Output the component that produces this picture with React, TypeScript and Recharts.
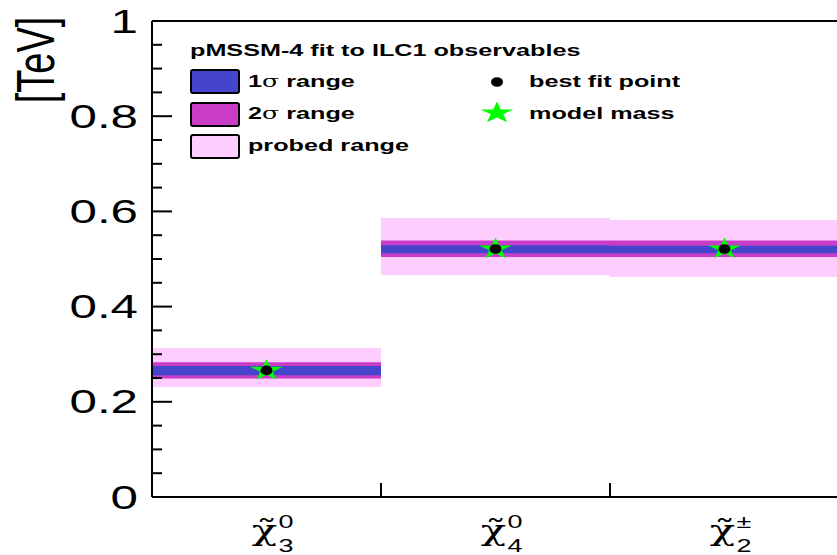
import {
  ComposedChart,
  XAxis,
  YAxis,
  Scatter,
  ReferenceArea,
  ReferenceLine,
} from "recharts"

// particle labels: chi-tilde with sub/superscripts
const labelSub = ["3", "4", "2"]
const labelSup = ["0", "0", "±"]

// masses in TeV
const bestFit = [0.266, 0.521, 0.521]
const modelMass = [0.266, 0.521, 0.521]
const sigma1Low = [0.256, 0.512, 0.512]
const sigma1High = [0.275, 0.529, 0.528]
const sigma2Low = [0.249, 0.504, 0.504]
const sigma2High = [0.283, 0.539, 0.539]
const probedLow = [0.231, 0.466, 0.462]
const probedHigh = [0.313, 0.586, 0.582]

const yTicks = [
  0, 0.05, 0.1, 0.15, 0.2, 0.25, 0.3, 0.35, 0.4, 0.45, 0.5, 0.55, 0.6, 0.65,
  0.7, 0.75, 0.8, 0.85, 0.9, 0.95, 1,
]
const xTicks = [0.5, 1, 1.5, 2, 2.5]

const FONT = "'Liberation Sans', Arial, sans-serif"
const SX = 1.5 // the original is stretched sideways

const PINK = "#ffccff"
const MAGENTA = "#c83cc8"
const BLUE = "#4444cc"

const stretch = (x: number, y: number, s = SX) =>
  `translate(${x} ${y}) scale(${s} 1) translate(${-x} ${-y})`

const isMajor = (v: number) => Math.abs(v * 5 - Math.round(v * 5)) < 1e-6

function LeftTick(props: any) {
  const { x, y, payload } = props
  const v = payload.value as number
  const ax = x + 14
  const major = isMajor(v)
  return (
    <g>
      <line x1={ax} x2={ax + (major ? 20 : 10)} y1={y} y2={y} stroke="#000" strokeWidth={2} />
      {major && (
        <text
          x={x}
          y={y}
          textAnchor="end"
          dominantBaseline="central"
          fontFamily={FONT}
          fontSize={34}
          fill="#000"
          transform={stretch(x, y, 1.45)}
        >
          {String(v)}
        </text>
      )}
    </g>
  )
}

function RightTick(props: any) {
  const { x, y, payload } = props
  const len = isMajor(payload.value) ? 20 : 10
  return <line x1={x} x2={x - len} y1={y} y2={y} stroke="#000" strokeWidth={2} />
}

function BottomTick(props: any) {
  const { x, y, payload } = props
  const v = payload.value as number
  if (Number.isInteger(v)) {
    return <line x1={x} x2={x} y1={y} y2={y - 14} stroke="#000" strokeWidth={2} />
  }
  const i = Math.floor(v)
  return (
    <g fill="#000">
      <text x={x - 2} y={y + 43} textAnchor="middle" fontFamily="'DejaVu Serif', serif" fontSize={28} transform={stretch(x - 2, y + 43)}>
        {"\u03C7\u0303"}
      </text>
      <text x={x + 12} y={y + 31} fontFamily={FONT} fontSize={18} transform={stretch(x + 12, y + 31)}>
        {labelSup[i]}
      </text>
      <text x={x + 12} y={y + 55} fontFamily={FONT} fontSize={18} transform={stretch(x + 12, y + 55)}>
        {labelSub[i]}
      </text>
    </g>
  )
}

function starPoints(cx: number, cy: number, r: number) {
  const pts: string[] = []
  for (let k = 0; k < 10; k++) {
    const a = ((-90 + k * 36) * Math.PI) / 180
    const rr = k % 2 === 0 ? r : r * 0.382
    pts.push(`${cx + SX * rr * Math.cos(a)},${cy + rr * Math.sin(a)}`)
  }
  return pts.join(" ")
}

const StarShape = (p: any) => <polygon points={starPoints(p.cx, p.cy, 11.5)} fill="#00ff00" />
const DotShape = (p: any) => <ellipse cx={p.cx} cy={p.cy} rx={6} ry={4.8} fill="#000" />

function LegendBox() {
  const rows = [
    { fill: BLUE, y: 70, base: 87.5, label: "1", rest: " range", sigma: true },
    { fill: MAGENTA, y: 103, base: 119, label: "2", rest: " range", sigma: true },
    { fill: PINK, y: 135, base: 151, label: "probed range", rest: "", sigma: false },
  ]
  return (
    <svg
      width={837}
      height={555}
      style={{ position: "absolute", left: 0, top: 0, pointerEvents: "none" }}
    >
      <text x={190} y={56.5} fontFamily={FONT} fontWeight="bold" fontSize={16.8} transform={stretch(190, 56.5)}>
        pMSSM-4 fit to ILC1 observables
      </text>
      {rows.map((r) => (
        <g key={r.label + r.y}>
          <rect x={191} y={r.y} width={48} height={23} rx={2} fill={r.fill} stroke="#000" strokeWidth={2} />
          <text x={248} y={r.base} fontFamily={FONT} fontWeight="bold" fontSize={16.8} transform={stretch(248, r.base)}>
            {r.label}
            {r.sigma && (
              <tspan fontFamily="'DejaVu Serif', serif" fontWeight="normal">
                σ
              </tspan>
            )}
            {r.rest}
          </text>
        </g>
      ))}
      <ellipse cx={497} cy={82} rx={6} ry={4.8} fill="#000" />
      <polygon points={starPoints(497, 113, 11.5)} fill="#00ff00" />
      <text x={529} y={87.5} fontFamily={FONT} fontWeight="bold" fontSize={16.8} transform={stretch(529, 87.5)}>
        best fit point
      </text>
      <text x={529} y={119} fontFamily={FONT} fontWeight="bold" fontSize={16.8} transform={stretch(529, 119)}>
        model mass
      </text>
      <text
        x={36}
        y={60}
        textAnchor="middle"
        dominantBaseline="central"
        fontFamily={FONT}
        fontSize={38}
        transform={`translate(36 60) scale(1.4 1) rotate(-90) translate(-36 -60)`}
      >
        [TeV]
      </text>
    </svg>
  )
}

export default function App() {
  const bestData = bestFit.map((v, i) => ({ x: i + 0.5, y: v }))
  const modelData = modelMass.map((v, i) => ({ x: i + 0.5, y: v }))

  return (
    <div
      style={{
        position: "fixed",
        left: 0,
        top: 0,
        width: 837,
        height: 555,
        overflow: "hidden",
        background: "#fff",
      }}
    >
      <ComposedChart width={845} height={555} margin={{ top: 21, right: 0, bottom: 0, left: 0 }}>
        <XAxis
          type="number"
          dataKey="x"
          domain={[0, 3]}
          ticks={xTicks}
          interval={0}
          height={58}
          tickSize={0}
          tickMargin={0}
          tickLine={false}
          axisLine={{ stroke: "#000", strokeWidth: 2 }}
          tick={<BottomTick />}
        />
        <YAxis
          type="number"
          domain={[0, 1]}
          ticks={yTicks}
          interval={0}
          width={152}
          tickSize={0}
          tickMargin={14}
          tickLine={false}
          axisLine={{ stroke: "#000", strokeWidth: 2 }}
          tick={<LeftTick />}
        />
        <YAxis
          yAxisId="right"
          orientation="right"
          type="number"
          domain={[0, 1]}
          ticks={yTicks}
          interval={0}
          width={6}
          tickSize={0}
          tickMargin={0}
          tickLine={false}
          axisLine={{ stroke: "#000", strokeWidth: 2 }}
          tick={<RightTick />}
        />

        {probedLow.map((lo, i) => (
          <ReferenceArea key={"p" + i} x1={i} x2={i + 1} y1={lo} y2={probedHigh[i]} fill={PINK} fillOpacity={1} stroke="none" />
        ))}
        {sigma2Low.map((lo, i) => (
          <ReferenceArea key={"s2" + i} x1={i} x2={i + 1} y1={lo} y2={sigma2High[i]} fill={MAGENTA} fillOpacity={1} stroke="none" />
        ))}
        {sigma1Low.map((lo, i) => (
          <ReferenceArea key={"s1" + i} x1={i} x2={i + 1} y1={lo} y2={sigma1High[i]} fill={BLUE} fillOpacity={1} stroke="none" />
        ))}

        <ReferenceLine y={1} stroke="#000" strokeWidth={2} />

        <Scatter data={modelData} dataKey="y" shape={StarShape} isAnimationActive={false} />
        <Scatter data={bestData} dataKey="y" shape={DotShape} isAnimationActive={false} />
      </ComposedChart>
      <LegendBox />
    </div>
  )
}
